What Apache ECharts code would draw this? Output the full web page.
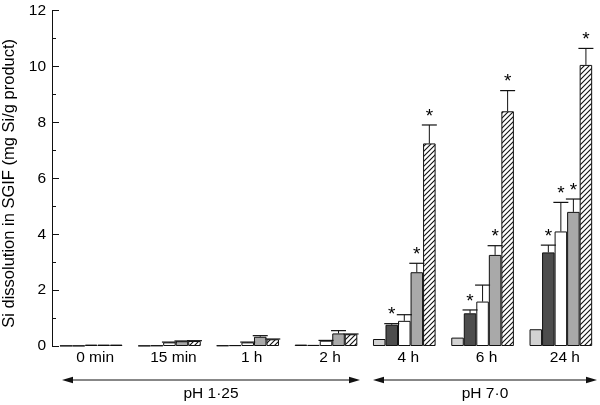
<!DOCTYPE html>
<html>
<head>
<meta charset="utf-8">
<script src="https://cdn.jsdelivr.net/npm/echarts@6/dist/echarts.min.js"></script>
<style>html,body{margin:0;padding:0;background:#fff;}#c{width:600px;height:405px;}</style>
</head>
<body>
<div id="c"></div>
<script>
const categories = ['0 min', '15 min', '1 h', '2 h', '4 h', '6 h', '24 h'];
const yTicks = [0, 2, 4, 6, 8, 10, 12];
// series values (mg Si/g product)
const lightGrey  = [0.01, 0.01, 0.02, 0.05, 0.25, 0.30, 0.60];
const darkGrey   = [0.01, 0.02, 0.03, 0.04, 0.76, 1.17, 3.35];
const white      = [0.05, 0.13, 0.13, 0.19, 0.90, 1.59, 4.10];
const midGrey    = [0.05, 0.17, 0.33, 0.45, 2.64, 3.26, 4.80];
const hatched    = [0.05, 0.18, 0.24, 0.42, 7.25, 8.40, 10.06];
// upper error bars
const errLight   = [0, 0, 0, 0, 0, 0, 0];
const errDark    = [0, 0, 0, 0, 0.04, 0.12, 0.26];
const errWhite   = [0, 0.01, 0.01, 0.01, 0.22, 0.59, 1.04];
const errMid     = [0, 0.01, 0.04, 0.10, 0.32, 0.33, 0.46];
const errHatched = [0, 0.01, 0.01, 0.01, 0.66, 0.74, 0.59];
// significance asterisks (1 = shown)
const starLight   = [0, 0, 0, 0, 0, 0, 0];
const starDark    = [0, 0, 0, 0, 1, 1, 1];
const starWhite   = [0, 0, 0, 0, 0, 0, 1];
const starMid     = [0, 0, 0, 0, 1, 1, 1];
const starHatched = [0, 0, 0, 0, 1, 1, 1];
const phLabels = ['pH 1·25', 'pH 7·0'];

const FONT = '"Liberation Sans", Arial, Helvetica, sans-serif';
const FS = 15.5;
const TXT = '#000';

// hatch pattern
const pc = document.createElement('canvas');
pc.width = 5; pc.height = 5;
const g = pc.getContext('2d');
g.fillStyle = '#fff'; g.fillRect(0, 0, 5, 5);
g.strokeStyle = '#111'; g.lineWidth = 1.1;
g.beginPath();
g.moveTo(-1, 6); g.lineTo(6, -1);
g.moveTo(-1, 1); g.lineTo(1, -1);
g.moveTo(4, 6); g.lineTo(6, 4);
g.stroke();

const groups = [
  {name: 'a', data: lightGrey, err: errLight, star: starLight, color: '#d2d2d2'},
  {name: 'b', data: darkGrey, err: errDark, star: starDark, color: '#4d4d4d'},
  {name: 'c', data: white, err: errWhite, star: starWhite, color: '#ffffff'},
  {name: 'd', data: midGrey, err: errMid, star: starMid, color: '#a9a9a9'},
  {name: 'e', data: hatched, err: errHatched, star: starHatched, color: {image: pc, repeat: 'repeat'}}
];
const N = groups.length;
const CAT_GAP = 0.2;

const series = [];
groups.forEach((s, i) => {
  series.push({
    type: 'bar', name: s.name, data: s.data,
    barGap: '0%', barCategoryGap: (CAT_GAP * 100) + '%',
    itemStyle: {color: s.color, borderColor: '#111', borderWidth: 1},
    emphasis: {disabled: true}, silent: true, z: 2
  });
});
groups.forEach((s, i) => {
  series.push({
    type: 'custom', name: s.name + '_err', z: 5, silent: true,
    data: s.data.map((v, k) => [k, v, s.err[k], s.star[k]]),
    renderItem: function (params, api) {
      const k = api.value(0), v = api.value(1), e = api.value(2), st = api.value(3);
      const band = api.size([1, 0])[0];
      const bw = band * (1 - CAT_GAP) / N;
      const base = api.coord([k, v]);
      const x = base[0] + (i - (N - 1) / 2) * bw;
      const yt = api.coord([k, v + e])[1];
      const children = [];
      if (e > 0) {
        children.push({type: 'line', shape: {x1: x, y1: base[1], x2: x, y2: yt}, style: {stroke: '#111', lineWidth: 1}});
        children.push({type: 'line', shape: {x1: x - 7.5, y1: yt, x2: x + 7.5, y2: yt}, style: {stroke: '#111', lineWidth: 1.2}});
      }
      if (st) {
        children.push({type: 'text', style: {text: '*', x: x, y: yt + 1, fill: TXT, font: '19px ' + FONT, align: 'center', verticalAlign: 'bottom'}});
      }
      return {type: 'group', children: children};
    }
  });
});

function arrow(x1, x2, y) {
  const h = 11, w = 3.2;
  return [
    {type: 'line', shape: {x1: x1 + 4, y1: y, x2: x2 - 4, y2: y}, style: {stroke: '#111', lineWidth: 1}},
    {type: 'polygon', shape: {points: [[x1, y], [x1 + h, y - w], [x1 + h, y + w]]}, style: {fill: '#111'}},
    {type: 'polygon', shape: {points: [[x2, y], [x2 - h, y - w], [x2 - h, y + w]]}, style: {fill: '#111'}}
  ];
}

const chart = echarts.init(document.getElementById('c'), null, {renderer: 'canvas'});
chart.setOption({
  animation: false,
  backgroundColor: '#fff',
  grid: {left: 52, right: 0, top: 10.7, bottom: 59, containLabel: false, outerBoundsMode: 'none'},
  xAxis: {
    type: 'category', data: categories,
    axisLine: {show: false}, axisTick: {show: false},
    axisLabel: {color: TXT, fontSize: FS, fontFamily: FONT, margin: 4, padding: [0, 0, 0, 8]}
  },
  yAxis: {
    type: 'value', min: yTicks[0], max: yTicks[yTicks.length - 1], interval: 2,
    name: 'Si dissolution in SGIF (mg Si/g product)',
    nameLocation: 'middle', nameGap: 23,
    nameTextStyle: {color: TXT, fontSize: 16.5, fontFamily: FONT, padding: [0, 10, 0, 0]},
    axisLine: {show: true, lineStyle: {color: '#111', width: 1}},
    axisTick: {show: true, inside: true, length: 7, lineStyle: {color: '#111'}},
    minorTick: {show: true, splitNumber: 2, length: 4, lineStyle: {color: '#111'}},
    axisLabel: {color: TXT, fontSize: FS, fontFamily: FONT, margin: 6},
    splitLine: {show: false}
  },
  series: series,
  graphic: [].concat(
    arrow(62, 360, 380),
    arrow(373, 597, 380),
    [
      {type: 'text', style: {text: phLabels[0], x: 211, y: 394, align: 'center', verticalAlign: 'middle', fill: TXT, font: FS + 'px ' + FONT}},
      {type: 'text', style: {text: phLabels[1], x: 485, y: 394, align: 'center', verticalAlign: 'middle', fill: TXT, font: FS + 'px ' + FONT}}
    ]
  )
});
</script>
</body>
</html>
